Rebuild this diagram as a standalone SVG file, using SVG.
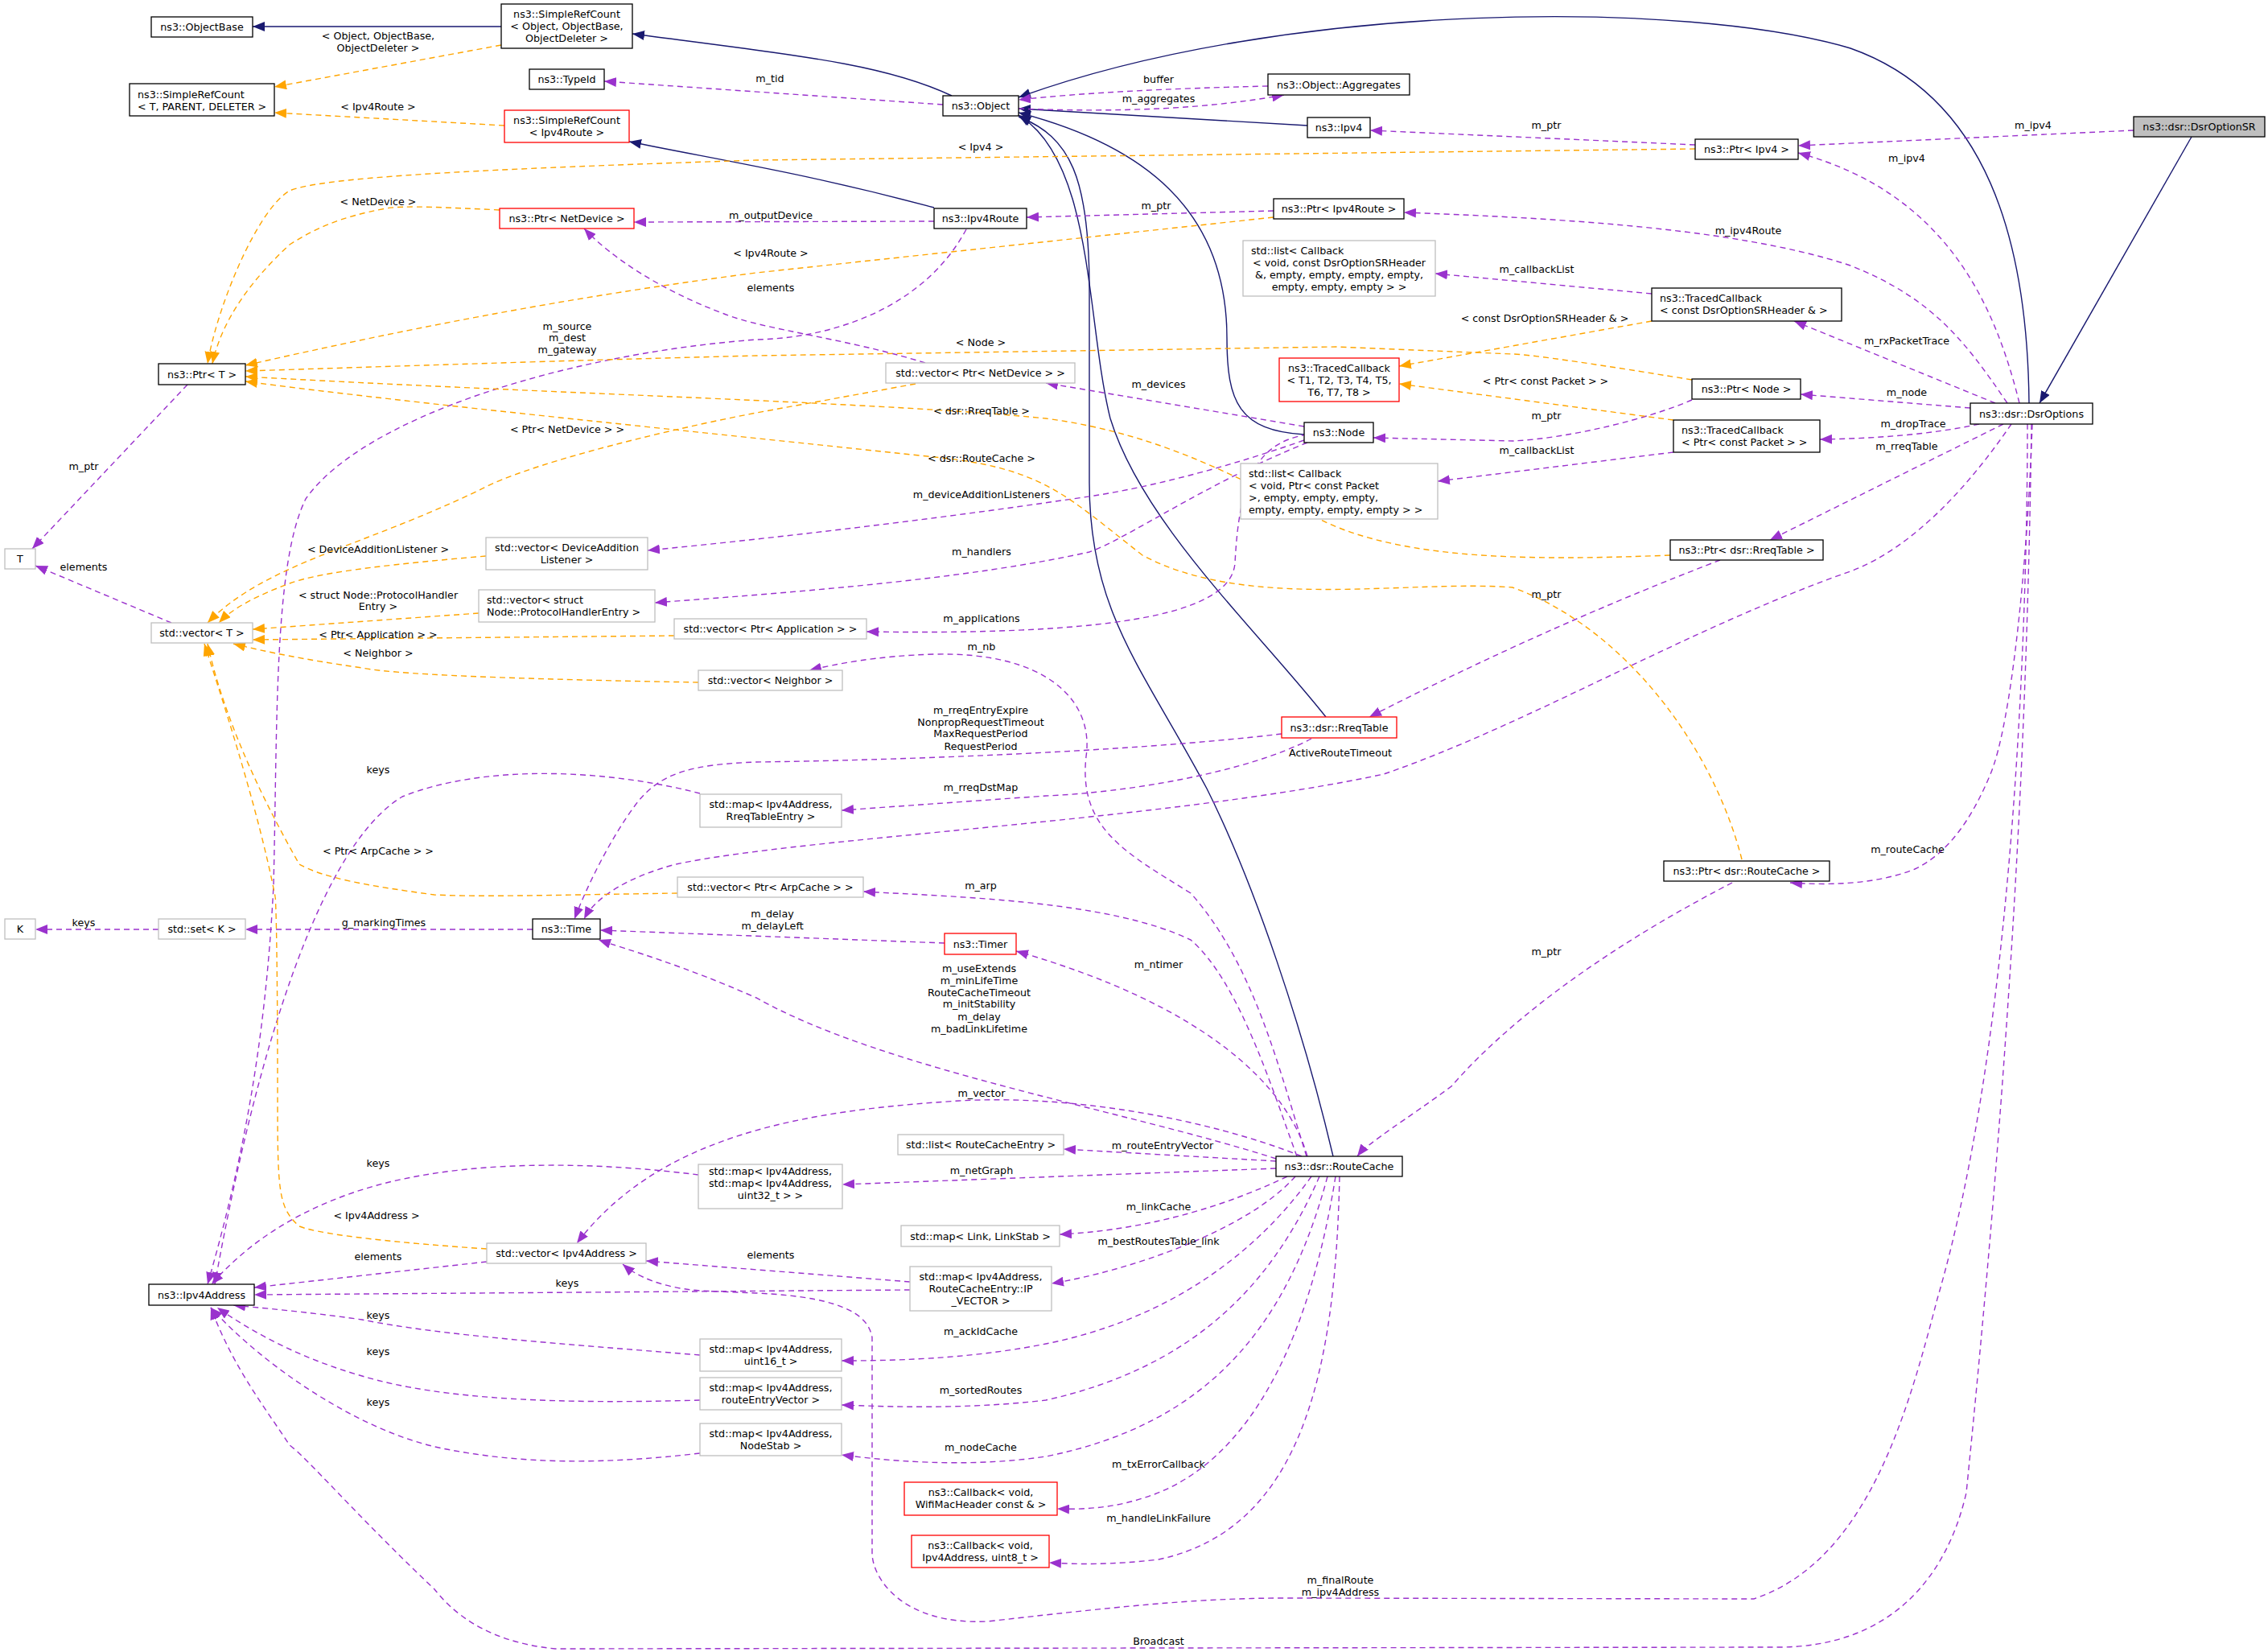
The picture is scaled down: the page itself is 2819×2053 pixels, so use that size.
<svg xmlns="http://www.w3.org/2000/svg" width="2819" height="2053" viewBox="0 0 2819 2053">
<style>
text{font-family:"DejaVu Sans","Liberation Sans",sans-serif;font-size:12.7px;fill:#000}
.n rect{fill:#fff;stroke:#000;stroke-width:1.3}
.g rect{fill:#fff;stroke:#bfbfbf;stroke-width:1.3}
.r rect{fill:#fff;stroke:#ff0000;stroke-width:1.3}
.c{text-anchor:middle}
.i{fill:none;stroke:#191970;stroke-width:1.4}
.u{fill:none;stroke:#9a32cd;stroke-width:1.4;stroke-dasharray:7,5}
.t{fill:none;stroke:#ffa500;stroke-width:1.4;stroke-dasharray:7,5}
.i{marker-end:url(#ai)}.u{marker-end:url(#au)}.t{marker-end:url(#at)}
</style>
<defs>
<marker id="ai" markerUnits="userSpaceOnUse" markerWidth="16" markerHeight="12" refX="15" refY="6" orient="auto"><path d="M0,0 L15,6 L0,12 z" fill="#191970"/></marker>
<marker id="au" markerUnits="userSpaceOnUse" markerWidth="16" markerHeight="12" refX="15" refY="6" orient="auto"><path d="M0,0 L15,6 L0,12 z" fill="#9a32cd"/></marker>
<marker id="at" markerUnits="userSpaceOnUse" markerWidth="16" markerHeight="12" refX="15" refY="6" orient="auto"><path d="M0,0 L15,6 L0,12 z" fill="#ffa500"/></marker>
</defs>
<rect width="2819" height="2053" fill="#fff"/>
<g id="edges">
<path class="i" d="M623,33 L314,33"/>
<path class="i" d="M1183,119 C1100,80 1000,70 786,42"/>
<path class="i" d="M1161,258 C1000,215 900,200 782,176"/>
<path class="i" d="M2522,501 C2520,300 2470,120 2300,60 C2100,0 1600,0 1266,121"/>
<path class="i" d="M1625,156 L1266,135"/>
<path class="i" d="M1621,540 C1540,535 1525,500 1525,420 C1525,260 1420,180 1266,140"/>
<path class="i" d="M1648,891 C1560,780 1420,650 1380,520 C1350,400 1360,200 1266,143"/>
<path class="i" d="M1657,1437 C1620,1280 1560,1100 1500,980 C1420,830 1354,760 1354,600 L1354,360 C1354,220 1330,170 1266,145"/>
<path class="i" d="M2724,170 L2535,501"/>

<path class="u" d="M1172,130 L751,101"/>
<path class="u" d="M1576,107 C1450,110 1350,115 1266,124"/>
<path class="u" d="M1266,135 C1400,140 1500,135 1596,118"/>
<path class="u" d="M2107,180 L1703,162"/>
<path class="u" d="M2652,162 L2235,181"/>
<path class="u" d="M2510,501 C2480,380 2420,240 2235,190"/>
<path class="u" d="M2495,501 C2440,420 2400,370 2300,330 C2150,280 1900,270 1745,264"/>
<path class="u" d="M1583,262 L1276,270"/>
<path class="u" d="M1161,275 L788,276"/>
<path class="u" d="M1201,285 C1150,380 1040,420 940,422 C700,440 450,520 380,620 C340,700 345,900 340,1100 C330,1300 300,1450 258,1596"/>
<path class="u" d="M2053,365 L1784,340"/>
<path class="u" d="M2480,501 L2230,399"/>
<path class="u" d="M2449,507 L2238,490"/>
<path class="u" d="M2103,497 C2050,520 1950,545 1880,548 L1707,544"/>
<path class="u" d="M2460,527 C2400,540 2330,545 2262,546"/>
<path class="u" d="M2080,562 L1787,598"/>
<path class="u" d="M2490,527 L2200,671"/>
<path class="u" d="M2138,696 C2050,730 1900,790 1702,891"/>
<path class="u" d="M2500,527 C2450,600 2380,680 2300,710 C2100,780 1900,900 1720,962 C1450,1020 1000,1040 840,1074 C780,1090 740,1115 726,1142"/>
<path class="u" d="M1593,912 C1400,935 1100,945 940,947 C860,950 820,960 790,1000 C760,1040 730,1100 714,1142"/>
<path class="u" d="M1630,918 C1550,960 1400,985 1300,989 L1046,1007"/>
<path class="u" d="M870,986 C750,955 600,950 500,990 C400,1050 320,1300 267,1596"/>
<path class="u" d="M1621,530 L1300,476"/>
<path class="u" d="M1150,451 C1050,420 950,410 900,390 C820,360 760,320 726,284"/>
<path class="u" d="M1621,547 C1500,590 1400,610 1360,616 C1200,640 1000,665 805,684"/>
<path class="u" d="M1625,550 C1500,600 1400,670 1354,686 C1200,720 1000,735 814,749"/>
<path class="u" d="M1625,540 C1560,550 1540,600 1535,700 C1530,760 1400,790 1077,785"/>
<path class="u" d="M1624,1437 C1590,1330 1560,1200 1480,1110 C1400,1060 1340,1030 1350,940 C1360,870 1300,810 1162,813 C1090,815 1040,825 1006,833"/>
<path class="u" d="M1612,1437 C1580,1350 1540,1220 1480,1168 C1380,1120 1200,1115 1073,1108"/>
<path class="u" d="M1625,1437 C1600,1350 1500,1250 1263,1182"/>
<path class="u" d="M1174,1172 L746,1156"/>
<path class="u" d="M1586,1440 C1400,1380 1100,1330 940,1240 C850,1200 780,1180 744,1168"/>
<path class="u" d="M1618,1437 C1500,1390 1330,1360 1192,1368 C1000,1380 820,1410 717,1545"/>
<path class="u" d="M1586,1443 L1322,1428"/>
<path class="u" d="M1586,1452 L1047,1472"/>
<path class="u" d="M868,1460 C750,1445 600,1440 480,1470 C400,1490 320,1530 263,1596"/>
<path class="u" d="M1600,1462 C1500,1510 1400,1530 1317,1534"/>
<path class="u" d="M1610,1462 C1550,1530 1400,1580 1307,1595"/>
<path class="u" d="M1131,1593 L803,1567"/>
<path class="u" d="M1131,1603 L316,1609"/>
<path class="u" d="M605,1568 L316,1600"/>
<path class="u" d="M1630,1462 C1560,1560 1450,1640 1300,1670 C1200,1690 1100,1691 1046,1691"/>
<path class="u" d="M1640,1462 C1580,1600 1480,1700 1300,1740 C1200,1752 1100,1748 1046,1746"/>
<path class="u" d="M1650,1462 C1600,1650 1500,1770 1300,1810 C1200,1825 1100,1815 1046,1808"/>
<path class="u" d="M1660,1462 C1630,1650 1560,1820 1420,1862 C1380,1875 1340,1876 1314,1875"/>
<path class="u" d="M1665,1462 C1660,1700 1620,1900 1440,1938 C1380,1945 1340,1944 1304,1942"/>
<path class="u" d="M870,1684 C700,1670 550,1660 450,1640 C380,1630 320,1625 290,1622"/>
<path class="u" d="M870,1740 C700,1745 550,1740 450,1710 C380,1690 320,1660 270,1625"/>
<path class="u" d="M870,1806 C750,1820 650,1820 550,1800 C450,1780 330,1700 262,1625"/>
<path class="u" d="M2520,527 C2520,800 2500,1300 2408,1614 C2370,1760 2320,1940 2180,1987 L1600,1986 C1500,1986 1420,1993 1228,2015 C1120,2020 1084,1960 1084,1930 L1084,1662 C1080,1640 1060,1612 940,1607 L870,1604 C820,1600 790,1585 774,1571"/>
<path class="u" d="M2525,527 C2520,900 2500,1300 2444,1855 C2420,1960 2350,2047 2210,2047 L690,2049 C600,2040 560,2000 540,1975 C440,1880 380,1810 360,1796 C330,1750 290,1700 262,1625"/>
<path class="u" d="M2526,527 C2520,700 2500,900 2474,962 C2450,1020 2420,1061 2380,1080 C2330,1100 2270,1100 2225,1097"/>
<path class="u" d="M2153,1097 C2050,1150 1900,1240 1804,1350 C1750,1390 1700,1420 1687,1437"/>
<path class="u" d="M233,478 L40,682"/>
<path class="u" d="M213,774 L44,703"/>
<path class="u" d="M197,1155 L44,1155"/>
<path class="u" d="M662,1155 L305,1155"/>

<path class="t" d="M623,56 L341,108"/>
<path class="t" d="M627,156 L341,140"/>
<path class="t" d="M2107,185 L940,199 C600,210 400,220 360,237 C320,260 270,380 258,452"/>
<path class="t" d="M621,261 C560,258 500,255 480,259 C420,270 390,285 360,304 C310,350 275,400 264,452"/>
<path class="t" d="M1583,270 L940,339 C700,370 500,410 305,454"/>
<path class="t" d="M2103,472 C2000,455 1900,440 1880,440 L1660,431 L940,442 C700,448 500,455 305,461"/>
<path class="t" d="M2053,399 L1739,455"/>
<path class="t" d="M2080,522 L1739,477"/>
<path class="t" d="M2076,690 C1900,697 1750,695 1650,650 C1550,600 1450,540 1300,520 C1100,500 700,490 305,468"/>
<path class="t" d="M2165,1068 C2130,930 2020,780 1880,730 C1750,720 1550,760 1420,690 C1330,620 1300,585 1180,570 C900,540 500,500 305,474"/>
<path class="t" d="M1138,477 L940,513 C800,540 650,580 600,607 C450,680 330,700 258,774"/>
<path class="t" d="M604,691 C500,700 400,710 360,725 C320,740 290,755 272,774"/>
<path class="t" d="M595,762 L314,782"/>
<path class="t" d="M838,790 L314,795"/>
<path class="t" d="M868,848 C700,845 500,840 450,830 C380,820 330,810 290,800"/>
<path class="t" d="M842,1110 C700,1112 600,1115 540,1112 C450,1100 400,1090 372,1074 C330,1000 280,900 258,800"/>
<path class="t" d="M605,1552 C500,1545 400,1535 372,1524 C345,1500 345,1480 345,1350 C345,1200 343,1114 342,1114 C320,1000 270,850 254,800"/>
</g>
<g id="labels" class="c">
<text x="470" y="49">&lt; Object, ObjectBase,</text><text x="470" y="64">ObjectDeleter &gt;</text>
<text x="470" y="137">&lt; Ipv4Route &gt;</text>
<text x="957" y="102">m_tid</text>
<text x="1440" y="103">buffer</text>
<text x="1440" y="127">m_aggregates</text>
<text x="1219" y="187">&lt; Ipv4 &gt;</text>
<text x="1922" y="160">m_ptr</text>
<text x="2527" y="160">m_ipv4</text>
<text x="2370" y="201">m_ipv4</text>
<text x="2173" y="291">m_ipv4Route</text>
<text x="1437" y="260">m_ptr</text>
<text x="958" y="272">m_outputDevice</text>
<text x="470" y="255">&lt; NetDevice &gt;</text>
<text x="958" y="319">&lt; Ipv4Route &gt;</text>
<text x="958" y="362">elements</text>
<text x="1910" y="339">m_callbackList</text>
<text x="1920" y="400">&lt; const DsrOptionSRHeader &amp; &gt;</text>
<text x="705" y="410">m_source</text><text x="705" y="424">m_dest</text><text x="705" y="439">m_gateway</text>
<text x="1219" y="430">&lt; Node &gt;</text>
<text x="2370" y="428">m_rxPacketTrace</text>
<text x="1921" y="478">&lt; Ptr&lt; const Packet &gt; &gt;</text>
<text x="1440" y="482">m_devices</text>
<text x="2370" y="492">m_node</text>
<text x="1220" y="515">&lt; dsr::RreqTable &gt;</text>
<text x="1922" y="521">m_ptr</text>
<text x="2378" y="531">m_dropTrace</text>
<text x="705" y="538">&lt; Ptr&lt; NetDevice &gt; &gt;</text>
<text x="2370" y="559">m_rreqTable</text>
<text x="1910" y="564">m_callbackList</text>
<text x="1220" y="574">&lt; dsr::RouteCache &gt;</text>
<text x="104" y="584">m_ptr</text>
<text x="1220" y="619">m_deviceAdditionListeners</text>
<text x="470" y="687">&lt; DeviceAdditionListener &gt;</text>
<text x="1220" y="690">m_handlers</text>
<text x="104" y="709">elements</text>
<text x="470" y="744">&lt; struct Node::ProtocolHandler</text><text x="470" y="758">Entry &gt;</text>
<text x="1922" y="743">m_ptr</text>
<text x="1220" y="773">m_applications</text>
<text x="470" y="793">&lt; Ptr&lt; Application &gt; &gt;</text>
<text x="1220" y="808">m_nb</text>
<text x="470" y="816">&lt; Neighbor &gt;</text>
<text x="1219" y="887">m_rreqEntryExpire</text><text x="1219" y="902">NonpropRequestTimeout</text><text x="1219" y="916">MaxRequestPeriod</text><text x="1219" y="932">RequestPeriod</text>
<text x="1666" y="940">ActiveRouteTimeout</text>
<text x="470" y="961">keys</text>
<text x="1219" y="983">m_rreqDstMap</text>
<text x="2371" y="1060">m_routeCache</text>
<text x="470" y="1062">&lt; Ptr&lt; ArpCache &gt; &gt;</text>
<text x="1219" y="1105">m_arp</text>
<text x="960" y="1140">m_delay</text><text x="960" y="1155">m_delayLeft</text>
<text x="104" y="1151">keys</text>
<text x="477" y="1151">g_markingTimes</text>
<text x="1922" y="1187">m_ptr</text>
<text x="1440" y="1203">m_ntimer</text>
<text x="1217" y="1208">m_useExtends</text><text x="1217" y="1223">m_minLifeTime</text><text x="1217" y="1238">RouteCacheTimeout</text><text x="1217" y="1252">m_initStability</text><text x="1217" y="1268">m_delay</text><text x="1217" y="1283">m_badLinkLifetime</text>
<text x="1220" y="1363">m_vector</text>
<text x="1445" y="1428">m_routeEntryVector</text>
<text x="470" y="1450">keys</text>
<text x="1220" y="1459">m_netGraph</text>
<text x="1440" y="1504">m_linkCache</text>
<text x="468" y="1515">&lt; Ipv4Address &gt;</text>
<text x="1440" y="1547">m_bestRoutesTable_link</text>
<text x="958" y="1564">elements</text>
<text x="470" y="1566">elements</text>
<text x="705" y="1599">keys</text>
<text x="470" y="1639">keys</text>
<text x="1219" y="1659">m_ackIdCache</text>
<text x="470" y="1684">keys</text>
<text x="1219" y="1732">m_sortedRoutes</text>
<text x="470" y="1747">keys</text>
<text x="1219" y="1803">m_nodeCache</text>
<text x="1440" y="1824">m_txErrorCallback</text>
<text x="1440" y="1891">m_handleLinkFailure</text>
<text x="1666" y="1968">m_finalRoute</text><text x="1666" y="1983">m_ipv4Address</text>
<text x="1440" y="2044">Broadcast</text>
</g>
<g id="n1" class="n"><rect x="188" y="21" width="126" height="25"/><text class="c" x="251" y="38">ns3::ObjectBase</text></g>
<g id="n2" class="n"><rect x="623" y="5" width="163" height="55"/><text class="c" x="704.5" y="22">ns3::SimpleRefCount</text><text class="c" x="704.5" y="37">&lt; Object, ObjectBase,</text><text class="c" x="704.5" y="52">ObjectDeleter &gt;</text></g>
<g id="n3" class="n"><rect x="161" y="104" width="180" height="40"/><text x="171" y="121.5">ns3::SimpleRefCount</text><text x="171" y="136.5">&lt; T, PARENT, DELETER &gt;</text></g>
<g id="n4" class="n"><rect x="658" y="86" width="93" height="25"/><text class="c" x="704.5" y="103">ns3::TypeId</text></g>
<g id="n5" class="r"><rect x="627" y="137" width="155" height="40"/><text class="c" x="704.5" y="154">ns3::SimpleRefCount</text><text class="c" x="704.5" y="169">&lt; Ipv4Route &gt;</text></g>
<g id="n6" class="r"><rect x="621" y="259" width="167" height="25"/><text class="c" x="704.5" y="276">ns3::Ptr&lt; NetDevice &gt;</text></g>
<g id="n7" class="n"><rect x="197" y="452" width="108" height="26"/><text class="c" x="251" y="469.5">ns3::Ptr&lt; T &gt;</text></g>
<g id="n8" class="g"><rect x="6" y="682" width="38" height="25"/><text class="c" x="25" y="699">T</text></g>
<g id="n9" class="g"><rect x="188" y="774" width="126" height="25"/><text class="c" x="251" y="791">std::vector&lt; T &gt;</text></g>
<g id="n10" class="g"><rect x="604" y="668" width="201" height="40"/><text class="c" x="704.5" y="685">std::vector&lt; DeviceAddition</text><text class="c" x="704.5" y="700">Listener &gt;</text></g>
<g id="n11" class="g"><rect x="595" y="733" width="219" height="40"/><text x="605" y="750">std::vector&lt; struct</text><text x="605" y="765"> Node::ProtocolHandlerEntry &gt;</text></g>
<g id="n12" class="g"><rect x="838" y="769" width="239" height="25"/><text class="c" x="957.5" y="786">std::vector&lt; Ptr&lt; Application &gt; &gt;</text></g>
<g id="n13" class="g"><rect x="868" y="833" width="179" height="25"/><text class="c" x="957.5" y="850">std::vector&lt; Neighbor &gt;</text></g>
<g id="n14" class="g"><rect x="870" y="987" width="176" height="41"/><text class="c" x="958" y="1004">std::map&lt; Ipv4Address,</text><text class="c" x="958" y="1019">RreqTableEntry &gt;</text></g>
<g id="n15" class="g"><rect x="842" y="1090" width="231" height="25"/><text class="c" x="957.5" y="1107">std::vector&lt; Ptr&lt; ArpCache &gt; &gt;</text></g>
<g id="n16" class="g"><rect x="6" y="1142" width="38" height="25"/><text class="c" x="25" y="1159">K</text></g>
<g id="n17" class="g"><rect x="197" y="1142" width="108" height="25"/><text class="c" x="251" y="1159">std::set&lt; K &gt;</text></g>
<g id="n18" class="n"><rect x="662" y="1142" width="84" height="25"/><text class="c" x="704" y="1159">ns3::Time</text></g>
<g id="n19" class="n"><rect x="1172" y="119" width="94" height="25"/><text class="c" x="1219" y="136">ns3::Object</text></g>
<g id="n20" class="n"><rect x="1576" y="92" width="176" height="26"/><text class="c" x="1664" y="109.5">ns3::Object::Aggregates</text></g>
<g id="n21" class="n"><rect x="1625" y="146" width="78" height="25"/><text class="c" x="1664" y="163">ns3::Ipv4</text></g>
<g id="n22" class="n"><rect x="1161" y="259" width="115" height="25"/><text class="c" x="1218.5" y="276">ns3::Ipv4Route</text></g>
<g id="n23" class="n"><rect x="1583" y="247" width="162" height="25"/><text class="c" x="1664" y="264">ns3::Ptr&lt; Ipv4Route &gt;</text></g>
<g id="n24" class="g"><rect x="1545" y="299" width="239" height="69"/><text x="1555" y="315.5">std::list&lt; Callback</text><text class="c" x="1664.5" y="330.5">&lt; void, const DsrOptionSRHeader</text><text class="c" x="1664.5" y="345.5">&amp;, empty, empty, empty, empty,</text><text class="c" x="1664.5" y="360.5">empty, empty, empty &gt; &gt;</text></g>
<g id="n25" class="g"><rect x="1101" y="451" width="235" height="25"/><text class="c" x="1218.5" y="468">std::vector&lt; Ptr&lt; NetDevice &gt; &gt;</text></g>
<g id="n26" class="r"><rect x="1590" y="445" width="149" height="54"/><text class="c" x="1664.5" y="461.5">ns3::TracedCallback</text><text class="c" x="1664.5" y="476.5">&lt; T1, T2, T3, T4, T5,</text><text class="c" x="1664.5" y="491.5">T6, T7, T8 &gt;</text></g>
<g id="n27" class="n"><rect x="1621" y="525" width="86" height="25"/><text class="c" x="1664" y="542">ns3::Node</text></g>
<g id="n28" class="g"><rect x="1542" y="576" width="245" height="69"/><text x="1552" y="592.5">std::list&lt; Callback</text><text x="1552" y="607.5">&lt; void, Ptr&lt; const Packet</text><text x="1552" y="622.5"> &gt;, empty, empty, empty,</text><text x="1552" y="637.5"> empty, empty, empty, empty &gt; &gt;</text></g>
<g id="n29" class="r"><rect x="1593" y="891" width="143" height="26"/><text class="c" x="1664.5" y="908.5">ns3::dsr::RreqTable</text></g>
<g id="n30" class="r"><rect x="1174" y="1160" width="89" height="26"/><text class="c" x="1218.5" y="1177.5">ns3::Timer</text></g>
<g id="n31"><rect x="2652" y="145" width="163" height="25" fill="#bfbfbf" stroke="#000" stroke-width="1.3"/><text class="c" x="2733.5" y="162">ns3::dsr::DsrOptionSR</text></g>
<g id="n32" class="n"><rect x="2107" y="173" width="128" height="25"/><text class="c" x="2171" y="190">ns3::Ptr&lt; Ipv4 &gt;</text></g>
<g id="n33" class="n"><rect x="2053" y="358" width="236" height="41"/><text x="2063" y="375">ns3::TracedCallback</text><text x="2063" y="390">&lt; const DsrOptionSRHeader &amp; &gt;</text></g>
<g id="n34" class="n"><rect x="2103" y="471" width="135" height="25"/><text class="c" x="2170.5" y="488">ns3::Ptr&lt; Node &gt;</text></g>
<g id="n35" class="n"><rect x="2449" y="501" width="152" height="26"/><text class="c" x="2525" y="518.5">ns3::dsr::DsrOptions</text></g>
<g id="n36" class="n"><rect x="2080" y="522" width="182" height="40"/><text x="2090" y="539">ns3::TracedCallback</text><text x="2090" y="554">&lt; Ptr&lt; const Packet &gt; &gt;</text></g>
<g id="n37" class="n"><rect x="2076" y="671" width="190" height="25"/><text class="c" x="2171" y="688">ns3::Ptr&lt; dsr::RreqTable &gt;</text></g>
<g id="n38" class="n"><rect x="2068" y="1070" width="206" height="25"/><text class="c" x="2171" y="1087">ns3::Ptr&lt; dsr::RouteCache &gt;</text></g>
<g id="n39" class="n"><rect x="185" y="1596" width="131" height="26"/><text class="c" x="250.5" y="1613.5">ns3::Ipv4Address</text></g>
<g id="n40" class="g"><rect x="605" y="1545" width="198" height="25"/><text class="c" x="704" y="1562">std::vector&lt; Ipv4Address &gt;</text></g>
<g id="n41" class="g"><rect x="868" y="1447" width="179" height="55"/><text class="c" x="957.5" y="1459.5">std::map&lt; Ipv4Address,</text><text class="c" x="957.5" y="1474.5">std::map&lt; Ipv4Address,</text><text class="c" x="957.5" y="1489.5">uint32_t &gt; &gt;</text></g>
<g id="n42" class="g"><rect x="870" y="1664" width="176" height="40"/><text class="c" x="958" y="1681">std::map&lt; Ipv4Address,</text><text class="c" x="958" y="1696">uint16_t &gt;</text></g>
<g id="n43" class="g"><rect x="870" y="1712" width="176" height="40"/><text class="c" x="958" y="1729">std::map&lt; Ipv4Address,</text><text class="c" x="958" y="1744">routeEntryVector &gt;</text></g>
<g id="n44" class="g"><rect x="870" y="1769" width="176" height="40"/><text class="c" x="958" y="1786">std::map&lt; Ipv4Address,</text><text class="c" x="958" y="1801">NodeStab &gt;</text></g>
<g id="n45" class="g"><rect x="1116" y="1410" width="206" height="25"/><text class="c" x="1219" y="1427">std::list&lt; RouteCacheEntry &gt;</text></g>
<g id="n46" class="n"><rect x="1586" y="1437" width="157" height="25"/><text class="c" x="1664.5" y="1454">ns3::dsr::RouteCache</text></g>
<g id="n47" class="g"><rect x="1120" y="1523" width="197" height="26"/><text class="c" x="1218.5" y="1540.5">std::map&lt; Link, LinkStab &gt;</text></g>
<g id="n48" class="g"><rect x="1131" y="1574" width="176" height="55"/><text class="c" x="1219" y="1591">std::map&lt; Ipv4Address,</text><text class="c" x="1219" y="1606">RouteCacheEntry::IP</text><text class="c" x="1219" y="1621">_VECTOR &gt;</text></g>
<g id="n49" class="r"><rect x="1124" y="1842" width="190" height="41"/><text class="c" x="1219" y="1859">ns3::Callback&lt; void,</text><text class="c" x="1219" y="1874">WifiMacHeader const &amp; &gt;</text></g>
<g id="n50" class="r"><rect x="1133" y="1908" width="171" height="40"/><text class="c" x="1218.5" y="1925">ns3::Callback&lt; void,</text><text class="c" x="1218.5" y="1940">Ipv4Address, uint8_t &gt;</text></g>
</svg>
